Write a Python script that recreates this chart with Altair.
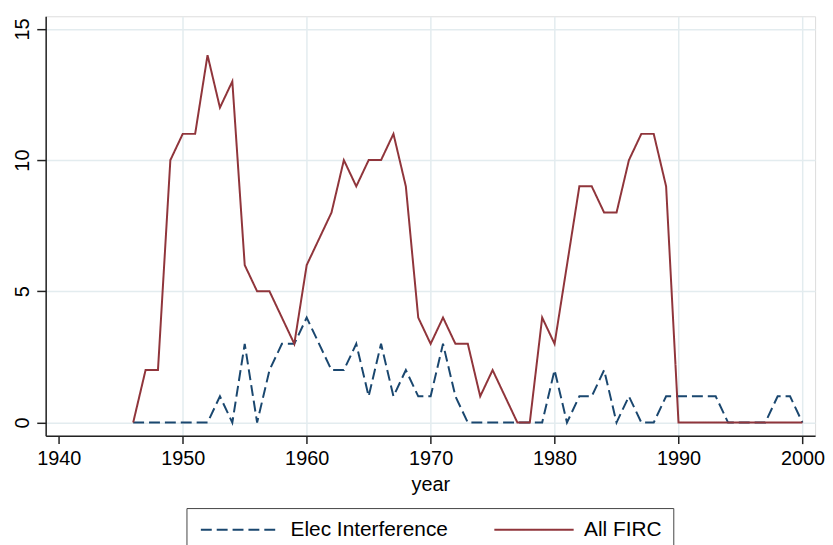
import altair as alt
import pandas as pd

years = list(range(1946, 2001))
all_firc = [0, 2, 2, 10, 11, 11, 14, 12, 13, 6,
            5, 5, 4, 3, 6, 7, 8, 10, 9, 10,
            10, 11, 9, 4, 3, 4, 3, 3, 1, 2,
            1, 0, 0, 4, 3, 6, 9, 9, 8, 8,
            10, 11, 11, 9, 0, 0, 0, 0, 0, 0,
            0, 0, 0, 0, 0]
elec_interference = [0, 0, 0, 0, 0, 0, 0, 1, 0, 3,
                     0, 2, 3, 3, 4, 3, 2, 2, 3, 1,
                     3, 1, 2, 1, 1, 3, 1, 0, 0, 0,
                     0, 0, 0, 0, 2, 0, 1, 1, 2, 0,
                     1, 0, 0, 1, 1, 1, 1, 1, 0, 0,
                     0, 0, 1, 1, 0]
series_names = ["Elec Interference", "All FIRC"]
series_colors = ["#1a476f", "#90353b"]
series_dashes = [[11, 5], [1, 0]]
x_ticks = [1940, 1950, 1960, 1970, 1980, 1990, 2000]
y_ticks = [0, 5, 10, 15]

df = pd.DataFrame({
    "year": years,
    "Elec Interference": elec_interference,
    "All FIRC": all_firc,
})

FONT = "Liberation Sans"
GRID = "#e3ecef"
AXC = "#222222"

leg = alt.Legend(
    title=None, orient="none", legendX=142, legendY=496,
    direction="horizontal", columns=2,
    symbolType="M-8,0H8", symbolSize=100, symbolStrokeWidth=2,
    symbolOffset=33,
    labelFont=FONT, labelFontSize=21, labelColor="black",
    labelOffset=40, columnPadding=42, padding=11,
    strokeColor="#444444",
)

chart = alt.Chart(df).transform_fold(
    series_names, as_=["series", "value"]
).mark_line(strokeWidth=2).encode(
    x=alt.X("year:Q",
            scale=alt.Scale(domain=[1938.94, 2001.02], nice=False, zero=False),
            axis=alt.Axis(values=x_ticks, format="d", title="year",
                          labelFont=FONT, labelFontSize=20, labelColor="black",
                          titleFont=FONT, titleFontSize=20, titleFontWeight="normal",
                          titleColor="black", titlePadding=6,
                          tickSize=8, tickWidth=1.5, tickColor=AXC,
                          domainColor=AXC, domainWidth=1.5, labelPadding=5,
                          gridColor=GRID, gridWidth=1.5,
                          gridOpacity=alt.expr("datum.value === 1940 ? 0 : 1"))),
    y=alt.Y("value:Q",
            scale=alt.Scale(domain=[-0.5, 15.48], nice=False, zero=False),
            axis=alt.Axis(values=y_ticks, title=None, labelAngle=270,
                          labelAlign="center", labelBaseline="bottom",
                          labelFont=FONT, labelFontSize=20, labelColor="black",
                          tickSize=9, tickWidth=1.5, tickColor=AXC,
                          domainColor=AXC, domainWidth=1.5, labelPadding=4,
                          minExtent=33, maxExtent=33,
                          gridColor=GRID, gridWidth=1.5)),
    color=alt.Color("series:N",
                    scale=alt.Scale(domain=series_names, range=series_colors),
                    legend=leg),
    strokeDash=alt.StrokeDash("series:N",
                              scale=alt.Scale(domain=series_names, range=series_dashes),
                              legend=leg),
).properties(
    width=776, height=423,
    padding={"left": 5, "top": 6, "right": 0, "bottom": 5},
).configure_view(stroke=None).configure(background="white")

chart.save("out.html", embed_options={"renderer": "svg", "actions": False})
